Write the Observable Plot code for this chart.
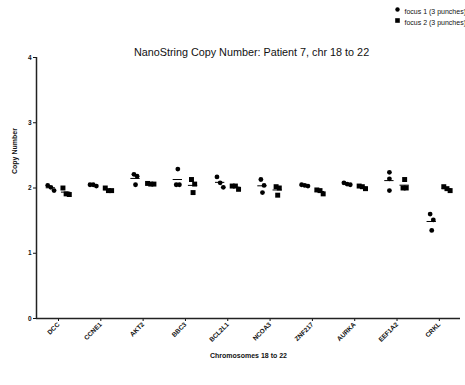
<!DOCTYPE html>
<html>
<head>
<meta charset="utf-8">
<script src="https://cdn.jsdelivr.net/npm/d3@7"></script>
<script src="https://cdn.jsdelivr.net/npm/@observablehq/plot@0.6"></script>
<style>
  body { margin: 0; overflow: hidden; background: white; }
  svg { font-family: Arial, "Liberation Sans", sans-serif; }
</style>
</head>
<body>
<div id="chart"></div>
<script>
const title = "NanoString Copy Number: Patient 7, chr 18 to 22";
const xTitle = "Chromosomes 18 to 22";
const yTitle = "Copy Number";
const seriesNames = ["focus 1 (3 punches)", "focus 2 (3 punches)"];
const genes = ["DCC","CCNE1","AKT2","BBC3","BCL2L1","NCOA3","ZNF217","AURKA","EEF1A2","CRKL"];
const focus1 = [
  [1.96, 2.04, 2.01], [2.05, 2.03, 2.05], [2.21, 2.18, 2.05], [2.29, 2.05, 2.05],
  [2.17, 2.08, 2.01], [2.13, 2.04, 1.93], [2.05, 2.03, 2.04], [2.08, 2.05, 2.06],
  [2.24, 2.14, 1.96], [1.60, 1.51, 1.35]
];
const focus2 = [
  [1.90, 2.00, 1.91], [2.00, 1.96, 1.96], [2.07, 2.06, 2.06], [2.13, 2.06, 1.93],
  [2.03, 1.98, 2.03], [2.02, 2.00, 1.89], [1.91, 1.97, 1.96], [2.03, 1.99, 2.02],
  [2.13, 2.00, 2.00], [2.02, 1.96, 1.99]
];
const yTicks = [0, 1, 2, 3, 4];

// Build rows: spread overlapping points horizontally (Prism-like scatter)
function spread(vals, threshold = 0.1, step = 0.075) {
  const order = vals.map((v, i) => i).sort((a, b) => vals[b] - vals[a]);
  const offs = new Array(vals.length).fill(0);
  let cluster = [order[0]];
  const flush = () => {
    const n = cluster.length;
    cluster.forEach((i, k) => offs[i] = (k - (n - 1) / 2) * step);
  };
  for (let j = 1; j < order.length; j++) {
    if (vals[cluster[cluster.length - 1]] - vals[order[j]] < threshold) cluster.push(order[j]);
    else { flush(); cluster = [order[j]]; }
  }
  flush();
  return offs;
}
const groupOffset = [-0.18, 0.18];
const points = [], means = [];
[focus1, focus2].forEach((series, s) => {
  series.forEach((vals, gi) => {
    const offs = spread(vals);
    vals.forEach((v, k) => points.push({gene: genes[gi], series: s, value: v, x: gi + groupOffset[s] + offs[k]}));
    const m = d3.mean(vals);
    means.push({series: s, value: m, x1: gi + groupOffset[s] - 0.11, x2: gi + groupOffset[s] + 0.11});
  });
});

const xDomain = [-0.52, 9.5];
const chart = Plot.plot({
  width: 465,
  height: 385,
  marginLeft: 36,
  marginRight: 5,
  marginTop: 57,
  marginBottom: 67,
  style: {fontFamily: "Arial, 'Liberation Sans', sans-serif", fontSize: "6.5px", fontWeight: "bold", background: "white", color: "#111"},
  x: {domain: xDomain, ticks: d3.range(genes.length), tickFormat: i => genes[i], tickRotate: -45, tickSize: 3, tickPadding: 2, label: null},
  y: {domain: [0, 4], ticks: yTicks, tickFormat: d3.format("d"), tickSize: 3, tickPadding: 2, label: null},
  marks: [
    Plot.ruleY([0], {stroke: "#222", strokeWidth: 1.5}),
    Plot.ruleX([xDomain[0]], {stroke: "#222", strokeWidth: 1.5}),
    Plot.ruleY(means, {x1: "x1", x2: "x2", y: "value", stroke: "black", strokeWidth: 1}),
    Plot.dot(points.filter(d => d.series === 0), {x: "x", y: "value", r: 2.4, fill: "black", stroke: "none", symbol: "circle"}),
    Plot.dot(points.filter(d => d.series === 1), {x: "x", y: "value", r: 2.8, fill: "black", stroke: "none", symbol: "square"}),
    Plot.text([title], {frameAnchor: "top", dx: 3, dy: -9, fontSize: 10.8, fontWeight: "normal", fill: "#111"}),
    Plot.text([xTitle], {frameAnchor: "bottom", dy: 39, fontSize: 7, fontWeight: "bold"}),
    Plot.text([yTitle], {frameAnchor: "left", dx: -22, dy: -14, rotate: -90, fontSize: 7, fontWeight: "bold"}),
    Plot.dot([seriesNames[0]], {frameAnchor: "top-left", dx: 361, dy: -48, r: 2.2, fill: "black", symbol: "circle"}),
    Plot.dot([seriesNames[1]], {frameAnchor: "top-left", dx: 361, dy: -37, r: 2.6, fill: "black", symbol: "square"}),
    Plot.text([seriesNames[0]], {frameAnchor: "top-left", dx: 368, dy: -48, text: d => d, textAnchor: "start", fontSize: 7, fontWeight: "normal", fill: "#111"}),
    Plot.text([seriesNames[1]], {frameAnchor: "top-left", dx: 368, dy: -37, text: d => d, textAnchor: "start", fontSize: 7, fontWeight: "normal", fill: "#111"})
  ]
});
document.getElementById("chart").appendChild(chart);
</script>
</body>
</html>
